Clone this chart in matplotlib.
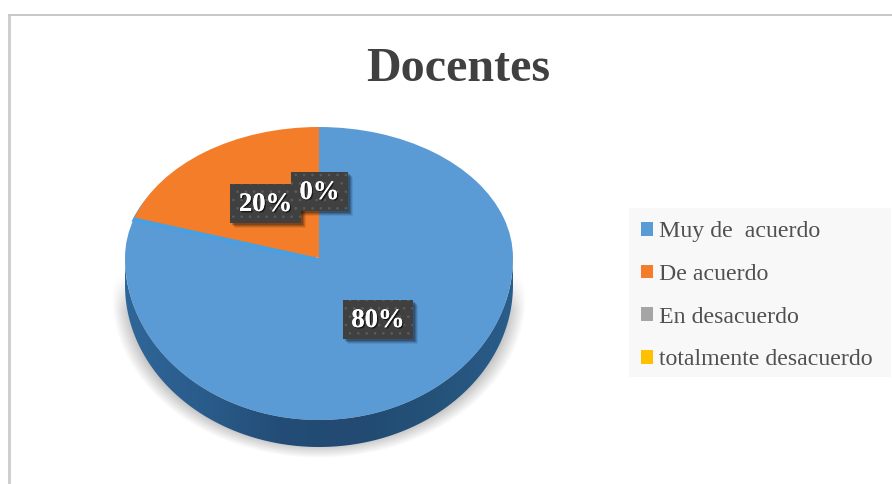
import numpy as np
import matplotlib
matplotlib.use("Agg")
import matplotlib.pyplot as plt
from matplotlib.colors import LinearSegmentedColormap
from matplotlib.patches import PathPatch, Rectangle, Polygon
from matplotlib.path import Path
import matplotlib.patheffects as pe

title = "Docentes"
categories = ["Muy de  acuerdo", "De acuerdo", "En desacuerdo", "totalmente desacuerdo"]
values = [80, 20, 0, 0]
colors = ["#5b9bd5", "#f47d2a", "#a5a5a5", "#ffc000"]
data_labels = ["80%", "20%", "0%"]

W, H = 892, 484
plt.rcParams["font.family"] = ["Liberation Serif", "DejaVu Serif"]
fig = plt.figure(figsize=(W / 100, H / 100), dpi=100, facecolor="white")
ax = fig.add_axes([0, 0, 1, 1])

CX, CY, RX, RY_UP, RY_DN, DEPTH = 319, 258, 194, 131, 162, 27


def to_px(v):
    """unit-circle pie coordinates -> tilted pixel-like coordinates (y up)"""
    v = np.asarray(v, float)
    x = CX + v[:, 0] * RX
    y = np.where(v[:, 1] >= 0, v[:, 1] * RY_UP, v[:, 1] * RY_DN)
    return np.column_stack([x, (H - CY) + y])


wedges, _ = ax.pie(values, colors=colors, startangle=90, counterclock=False, radius=1)
ax.set_aspect("auto")
ax.set_xlim(0, W)
ax.set_ylim(0, H)
ax.axis("off")

# soft ground shadow
xx, yy = np.meshgrid(np.arange(W) + .5, np.arange(H) + .5)
d = np.sqrt(((xx - 319) / 207) ** 2 + ((yy - 297) / 161) ** 2)
a = np.clip((1 - d) / 0.09, 0, 1) * np.clip((yy - 275) / 35, 0, 1)
rgba = np.zeros((H, W, 4))
rgba[..., :3] = 0.68
rgba[..., 3] = a * 0.8
ax.imshow(rgba, extent=(0, W, 0, H), origin="upper", aspect="auto", zorder=1)

# extruded side of the disc
t = np.linspace(np.pi, 2 * np.pi, 200)
low = to_px(np.column_stack([np.cos(t), np.sin(t)]))
side_poly = np.vstack([low, (low - [0, DEPTH])[::-1]])
side_cmap = LinearSegmentedColormap.from_list(
    "side", ["#2f6699", "#2a5c8b", "#234d76", "#224a72", "#245279", "#2b5d8b"])
grad = np.linspace(0, 1, 256)[None, :]
im = ax.imshow(grad, extent=(CX - RX, CX + RX, 0, H), cmap=side_cmap, aspect="auto", zorder=2)
clip = Polygon(side_poly, closed=True, transform=ax.transData, fc="none", ec="none")
ax.add_patch(clip)
im.set_clip_path(clip)
ax.set_xlim(0, W)
ax.set_ylim(0, H)

# top face built from the pie wedges
handles = []
for w, lab, col, val in zip(wedges, categories, colors, values):
    p = w.get_path()
    verts = to_px(w.get_patch_transform().transform(p.vertices))
    if val == 20:  # light edge seen just under the orange slice
        ax.add_patch(PathPatch(Path(verts - [3, 4], p.codes), fc="#4a9fe0", ec="none", zorder=3.2))
    patch = PathPatch(Path(verts, p.codes), fc=col, ec="none", lw=0, label=lab,
                      zorder=3.1 if val == 80 else 3.4)
    ax.add_patch(patch)
    handles.append(patch)
    w.remove()

# data labels: (text, left, top, right, bottom) in pixels from the top-left
label_boxes = [(data_labels[0], 343, 300, 413, 339),
               (data_labels[2], 291, 172, 348, 211),
               (data_labels[1], 230, 184, 301, 223)]
plt.rcParams["hatch.linewidth"] = 0.6
for txt, l, tp, r, b in label_boxes:
    for k, al in ((5, .08), (4, .12), (3, .16), (2, .20)):
        ax.add_patch(Rectangle((l + k, H - b - k), r - l, b - tp, fc="black", ec="none",
                               alpha=al, zorder=5))
    ax.add_patch(Rectangle((l, H - b), r - l, b - tp, fc="#404040", ec="none", zorder=5.1))
    ax.add_patch(Rectangle((l, H - b), r - l, b - tp, fc="none", ec="#5c5c5c", lw=0,
                           hatch="..", zorder=5.2))
    ax.text((l + r) / 2, H - (tp + b) / 2 - 1, txt, color="white", fontsize=19.2, fontweight="bold",
            ha="center", va="center", zorder=6,
            path_effects=[pe.withSimplePatchShadow(offset=(1, -1), shadow_rgbFace="black", alpha=.6),
                          pe.Normal()])

# title
ax.text(458, H - 69, title, fontsize=34.6, fontweight="bold", color="#404040",
        ha="center", va="center", zorder=6)

# legend
ax.add_patch(Rectangle((629, H - 377), 262, 169, fc="#f8f8f8", ec="none", zorder=4))
leg = ax.legend(handles=handles, loc="upper left", bbox_to_anchor=(629 / W, 1 - 209.5 / H),
                bbox_transform=fig.transFigure, frameon=False, fontsize=17.2, labelcolor="#505050",
                handlelength=0.5, handleheight=0.5, handletextpad=0.25, labelspacing=0.906,
                borderpad=0.5, borderaxespad=0)
leg.set_zorder(6)

# outer frame (top and left only visible)
ax.add_patch(Rectangle((8, 0), 2.5, H - 14, fc="#cfcfcf", ec="none", zorder=7))
ax.add_patch(Rectangle((8, H - 16), W - 8, 2, fc="#c8c8c8", ec="none", zorder=7))

fig.savefig("out.png", dpi=100, facecolor="white")
